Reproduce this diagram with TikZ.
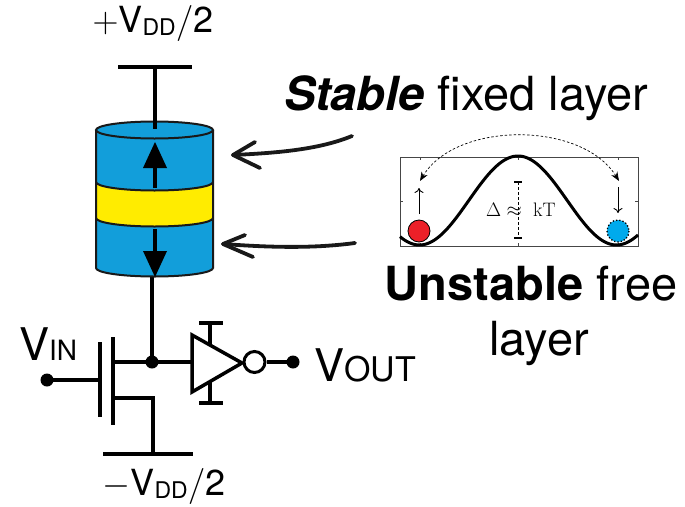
\RequirePackage{fix-cm}
\documentclass[tikz,border=0pt]{standalone}
\usepackage[no-math]{fontspec}
\setmainfont{TeX Gyre Heros}
\usetikzlibrary{arrows.meta}

\definecolor{layerblue}{RGB}{18,158,218}
\definecolor{barrieryellow}{RGB}{255,236,0}
\definecolor{ballred}{RGB}{236,32,40}
\definecolor{ballblue}{RGB}{0,170,236}
\definecolor{inkblack}{RGB}{25,25,25}
\definecolor{framegray}{RGB}{70,70,70}

\begin{document}
\begin{tikzpicture}[x=1pt,y=-1pt,
  wire/.style={line width=3.5pt, draw=black},
  cyl/.style={line width=2pt, draw=inkblack},
  dotnode/.style={circle, fill=black, inner sep=0pt, minimum size=13pt},
  bubble/.style={circle, draw=black, line width=3pt, fill=white, inner sep=0pt, minimum size=21pt},
  handarrow/.style={line width=3.8pt, draw=inkblack, line cap=round, line join=round},
  frame/.style={line width=0.8pt, draw=framegray},
  bigtext/.style={inner sep=0pt, font=\fontsize{47}{55}\selectfont},
  rail/.style={inner sep=0pt, font=\fontsize{36}{36}\selectfont},
  pinlabel/.style={inner sep=0pt, font=\fontsize{45}{45}\selectfont},
  eqtext/.style={inner sep=0pt, font=\fontsize{19.5}{19.5}\selectfont}
]
\useasboundingbox (0,0) rectangle (685,506);

% ---------- supply rails ----------
\node[rail, anchor=base] (vddp) at (153,32)
  {$+$V\raisebox{-3pt}{\fontsize{23}{23}\selectfont DD}$/$2};
\node[rail, anchor=base] (vddm) at (164,495)
  {$-$V\raisebox{-3pt}{\fontsize{23}{23}\selectfont DD}$/$2};

\coordinate (topbarL) at (118,67);
\coordinate (topbarR) at (192,67);
\coordinate (toptap)  at (155,67);
\coordinate (mtjtop)  at (155,129);
\coordinate (mtjbot)  at (152,268);

% ---------- MTJ stack ----------
\draw[wire] (mtjbot) -- (152,362);
\draw[wire] (topbarL) -- (topbarR);

% blue body silhouette
\fill[layerblue] (96,130) -- (96,268)
  arc[start angle=180, end angle=0, x radius=58.5, y radius=8.5]
  -- (213,130)
  arc[start angle=0, end angle=-180, x radius=58.5, y radius=8.5] -- cycle;
% tunnel barrier
\fill[barrieryellow] (96,182)
  arc[start angle=180, end angle=0, x radius=58.5, y radius=8.5]
  -- (213,218)
  arc[start angle=0, end angle=180, x radius=58.5, y radius=8.5] -- cycle;
% outlines
\draw[cyl] (154.5,130) ellipse[x radius=58.5, y radius=8.5];
\draw[cyl] (96,182) arc[start angle=180, end angle=0, x radius=58.5, y radius=8.5];
\draw[cyl] (96,218) arc[start angle=180, end angle=0, x radius=58.5, y radius=8.5];
\draw[cyl] (96,130) -- (96,268)
  arc[start angle=180, end angle=0, x radius=58.5, y radius=8.5] -- (213,130);

\draw[wire] (toptap) -- (mtjtop);

% magnetisation arrows
\draw[line width=4pt] (155,188) -- (155,165);
\fill (155,142) -- (143,168) -- (167,168) -- cycle;
\draw[line width=4pt] (155,229) -- (155,254);
\fill (155,277) -- (143,251) -- (167,251) -- cycle;

% ---------- transistor ----------
\coordinate (drainj) at (152,362);
\coordinate (gin)    at (47,380);
\coordinate (gate)   at (100,380);
\coordinate (gndtap) at (153,454);
\coordinate (gndL)   at (103,454);
\coordinate (gndR)   at (193,454);

\draw[wire] (100,342) -- (100,417);
\draw[wire] (113,337) -- (113,425);
\draw[wire] (113,362) -- (drainj);
\draw[wire] (113,398) -- (153,398) -- (gndtap);
\draw[wire] (gndL) -- (gndR);
\draw[wire] (gin) -- (gate);
\node[dotnode] (gindot) at (gin) {};
\node[dotnode] (jdot) at (drainj) {};

% ---------- output inverter ----------
\coordinate (bufin)  at (192,362);
\coordinate (bufapex) at (242,363);
\draw[wire] (drainj) -- (bufin);
\draw[wire, line join=miter] (192,335) -- (bufapex) -- (192,392) -- cycle;
\draw[wire] (210,323) -- (210,345);
\draw[wire] (199,323) -- (223,323);
\draw[wire] (210,381) -- (210,403);
\draw[wire] (199,403) -- (223,403);
\coordinate (vout) at (293,362);
\node[bubble] (inv) at (254.5,362) {};
\draw[wire] (inv.east) -- (vout);
\node[dotnode] (voutdot) at (vout) {};

\node[pinlabel, anchor=base west] (vin) at (19,360)
  {V\fontsize{28}{28}\selectfont IN};
\node[pinlabel, anchor=base west] (voutlbl) at (314,381)
  {V\fontsize{34}{34}\selectfont OUT};

% ---------- layer labels ----------
\node[bigtext, anchor=base west] (stable) at (284,110)
  {\textbf{\textit{Stable}} fixed layer};
\node[bigtext, anchor=base] (unstable1) at (531,300) {\textbf{Unstable} free};
\node[bigtext, anchor=base] (unstable2) at (539,355) {layer};

% hand-drawn pointers
\coordinate (tailA) at (352,136);
\coordinate (tipA)  at (233,155);
\draw[handarrow] (tailA) .. controls (318,150) and (275,153) .. (tipA);
\draw[handarrow] (255,142) -- (tipA) -- (260,168);

\coordinate (tailB) at (355,243);
\coordinate (tipB)  at (223,244);
\draw[handarrow] (tailB) .. controls (310,249) and (265,247) .. (tipB);
\draw[handarrow] (245,235) -- (tipB) -- (253,257);

% ---------- energy landscape ----------
\draw[frame] (400,157) rectangle (638,246);
\foreach \t in {420,518,618}{
  \draw[frame] (\t,157) -- (\t,160);
  \draw[frame] (\t,246) -- (\t,243);
}
\draw[frame] (400,201) -- (403,201);
\draw[frame] (638,201) -- (635,201);

% double-well potential, period 197 around the barrier top at 518
\draw[line width=3pt] plot[domain=400:638, samples=120, smooth]
  (\x,{200.5-44.5*cos(1.82741*(\x-518))});

\draw[line width=0.8pt, fill=ballred] (419,231) circle[radius=11];
\fill[ballblue] (618,231) circle[radius=11];
\draw[line width=1.3pt, dotted] (618,231) circle[radius=11];

\draw[line width=0.9pt, -{To[length=5pt,width=9pt]}] (419,214) -- (419,188);
\draw[line width=0.9pt, -{To[length=5pt,width=9pt]}] (618,187) -- (618,213);

\draw[line width=0.7pt, dash pattern=on 2.5pt off 2pt,
  {Stealth[length=9pt,width=7pt]}-{Stealth[length=9pt,width=7pt]}]
  (420,181) .. controls (456,121) and (582,121) .. (619,181);

\draw[line width=0.8pt, dash pattern=on 3pt off 2pt] (518,182) -- (518,238);
\draw[line width=1.6pt] (514,182) -- (522,182);
\draw[line width=1.6pt] (514,238) -- (522,238);
\node[eqtext, anchor=base east] (delta) at (522,216) {$\Delta\approx$};
\node[eqtext, anchor=base west] (kt) at (533,216) {$\mathrm{kT}$};

\end{tikzpicture}
\end{document}
